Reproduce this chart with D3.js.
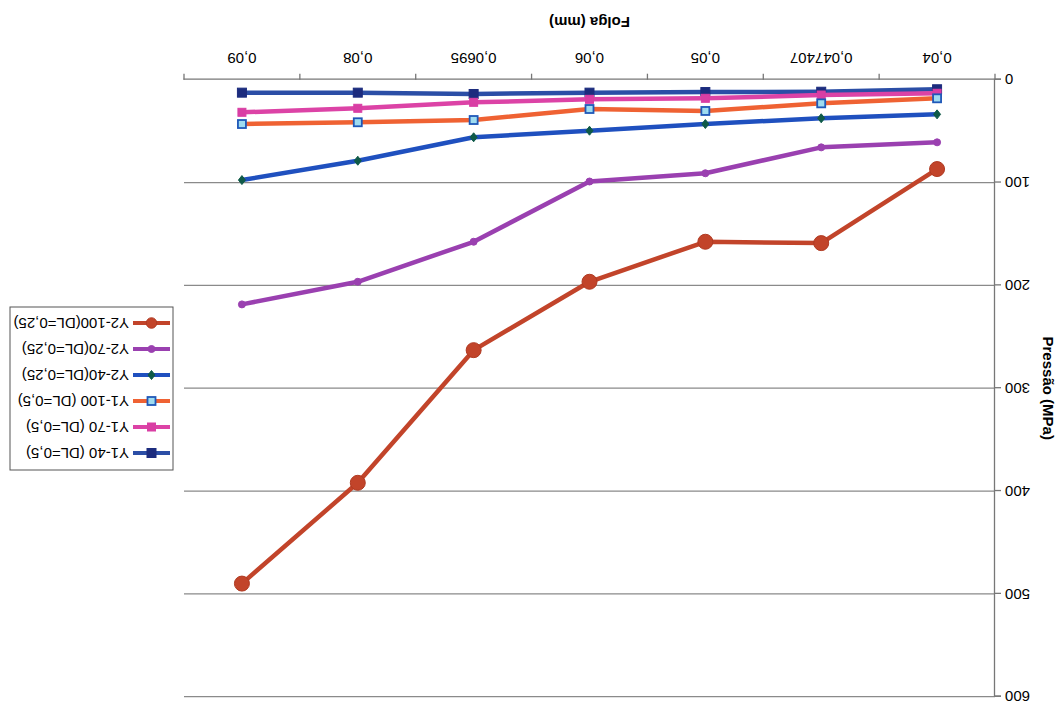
<!DOCTYPE html>
<html>
<head>
<meta charset="utf-8">
<script src="https://cdn.jsdelivr.net/npm/d3@7"></script>
<style>
  html, body { margin: 0; padding: 0; background: #fff; }
  svg { display: block; font-family: "Liberation Sans", Arial, sans-serif; }
</style>
</head>
<body>
<svg id="chart" width="1057" height="707"></svg>
<script>
// Folga (mm) categories along the x axis
const categories = ["0,04", "0,047407", "0,05", "0,06", "0,0695", "0,08", "0,09"];

// Pressão (MPa) for each series, one value per category
const y1_40  = [9.3, 11.7, 12.0, 12.6, 13.9, 12.6, 12.6];
const y1_70  = [13.2, 14.9, 18.1, 19.1, 22.0, 27.8, 31.7];
const y1_100 = [18.1, 23.0, 30.4, 28.5, 39.2, 41.4, 43.1];
const y2_40  = [33.7, 37.5, 43.1, 49.6, 56.0, 78.8, 97.6];
const y2_70  = [60.9, 65.8, 91.0, 99.0, 157.6, 196.5, 218.5];
const y2_100 = [86.9, 158.9, 157.6, 196.5, 263.0, 392.0, 490.0];

const seriesNames = ["Y1-40 (DL=0,5)", "Y1-70 (DL=0,5)", "Y1-100 (DL=0,5)",
                     "Y2-40(DL=0,25)", "Y2-70(DL=0,25)", "Y2-100(DL=0,25)"];
const yTicks = [0, 100, 200, 300, 400, 500, 600];

const W = 1057, H = 707;
const plot = { left: 62, right: 873, top: 10.3, bottom: 627.3 };

const styles = [
  { line: "#2b4ea6", marker: "square", fill: "#1c2c7e", stroke: "#1c2c7e", size: 9 },
  { line: "#dc43a6", marker: "square", fill: "#d93ea4", stroke: "#d93ea4", size: 8 },
  { line: "#ef6233", marker: "square", fill: "#9fdcf0", stroke: "#1f58b8", size: 8, sw: 1.8 },
  { line: "#1f50bf", marker: "diamond", fill: "#0f5a48", stroke: "#0f5a48", size: 7 },
  { line: "#9a40b0", marker: "circle", fill: "#9a40b0", stroke: "#9a40b0", size: 7 },
  { line: "#c2442a", marker: "circle", fill: "#c2442a", stroke: "#b03a22", size: 15 }
];
const seriesValues = [y1_40, y1_70, y1_100, y2_40, y2_70, y2_100];
const series = seriesNames.map((name, i) => ({
  name, values: seriesValues[i], style: styles[i]
}));

const x = d3.scaleBand().domain(categories).range([plot.left, plot.right]).padding(0);
const y = d3.scaleLinear().domain([0, 600]).range([plot.bottom, plot.top]);
const cx = c => x(c) + x.bandwidth() / 2;

const svg = d3.select("#chart");
// the whole chart is drawn turned upside down
const g = svg.append("g").attr("transform", `rotate(180 ${W / 2} ${H / 2})`);

// horizontal gridlines
g.append("g").selectAll("line")
  .data(yTicks.filter(t => t > 0))
  .join("line")
  .attr("x1", plot.left).attr("x2", plot.right)
  .attr("y1", d => y(d)).attr("y2", d => y(d))
  .attr("stroke", "#8a8a8a").attr("stroke-width", 1.3);

// y axis
const yAxis = g.append("g")
  .attr("transform", `translate(${plot.left},0)`)
  .call(d3.axisLeft(y).tickValues(yTicks).tickSize(6).tickPadding(4).tickFormat(d3.format("d")));
yAxis.select(".domain").attr("stroke", "#777").attr("stroke-width", 1.3);
yAxis.selectAll(".tick line").attr("stroke", "#777").attr("stroke-width", 1.3);
yAxis.selectAll("text").attr("font-size", 15).attr("fill", "#000")
  .attr("font-family", "Liberation Sans, Arial, sans-serif");

// x axis: labels at category centres, ticks on category boundaries
const xAxis = g.append("g")
  .attr("transform", `translate(0,${plot.bottom})`)
  .call(d3.axisBottom(x).tickSize(0).tickPadding(16));
xAxis.select(".domain").attr("stroke", "#777").attr("stroke-width", 1.3);
xAxis.selectAll("text").attr("font-size", 15).attr("fill", "#000")
  .attr("font-family", "Liberation Sans, Arial, sans-serif");
const bounds = categories.map(c => x(c)).concat([plot.right]);
g.append("g").selectAll("line").data(bounds).join("line")
  .attr("x1", d => d).attr("x2", d => d)
  .attr("y1", plot.bottom).attr("y2", plot.bottom + 6)
  .attr("stroke", "#777").attr("stroke-width", 1.3);

// axis titles
g.append("text")
  .attr("x", (plot.left + plot.right) / 2).attr("y", 690)
  .attr("text-anchor", "middle").attr("font-size", 15).attr("font-weight", "bold")
  .attr("fill", "#000").text("Folga (mm)");
g.append("text")
  .attr("transform", `translate(14,${(plot.top + plot.bottom) / 2}) rotate(-90)`)
  .attr("text-anchor", "middle").attr("font-size", 15).attr("font-weight", "bold")
  .attr("fill", "#000").text("Pressão (MPa)");

function drawMarker(sel, st, px, py, scale = 1) {
  const s = st.size * scale;
  if (st.marker === "square") {
    sel.append("rect").attr("x", px - s / 2).attr("y", py - s / 2)
      .attr("width", s).attr("height", s)
      .attr("fill", st.fill).attr("stroke", st.stroke).attr("stroke-width", st.sw || 1);
  } else if (st.marker === "diamond") {
    sel.append("path")
      .attr("d", `M${px},${py - s / 2 - 1}L${px + s / 2},${py}L${px},${py + s / 2 + 1}L${px - s / 2},${py}Z`)
      .attr("fill", st.fill).attr("stroke", st.stroke);
  } else {
    sel.append("circle").attr("cx", px).attr("cy", py).attr("r", s / 2)
      .attr("fill", st.fill).attr("stroke", st.stroke).attr("stroke-width", 1);
  }
}

// series lines and markers
const line = d3.line().x((d, i) => cx(categories[i])).y(d => y(d));
series.forEach(s => {
  const sg = g.append("g");
  sg.append("path").datum(s.values)
    .attr("d", line).attr("fill", "none")
    .attr("stroke", s.style.line).attr("stroke-width", 4.5)
    .attr("stroke-linejoin", "round").attr("stroke-linecap", "round");
  s.values.forEach((v, i) => drawMarker(sg, s.style, cx(categories[i]), y(v)));
});

// legend
const lg = g.append("g");
lg.append("rect").attr("x", 884).attr("y", 237).attr("width", 163).attr("height", 163)
  .attr("fill", "#fff").attr("stroke", "#555").attr("stroke-width", 1);
series.forEach((s, i) => {
  const ly = 254 + i * 26;
  lg.append("line").attr("x1", 887).attr("x2", 924).attr("y1", ly).attr("y2", ly)
    .attr("stroke", s.style.line).attr("stroke-width", 4);
  drawMarker(lg, s.style, 905.5, ly, s.style.size > 10 ? 0.7 : 1);
  lg.append("text").attr("x", 928).attr("y", ly).attr("dy", "0.36em")
    .attr("font-size", 15).attr("fill", "#000").text(s.name);
});
</script>
</body>
</html>
